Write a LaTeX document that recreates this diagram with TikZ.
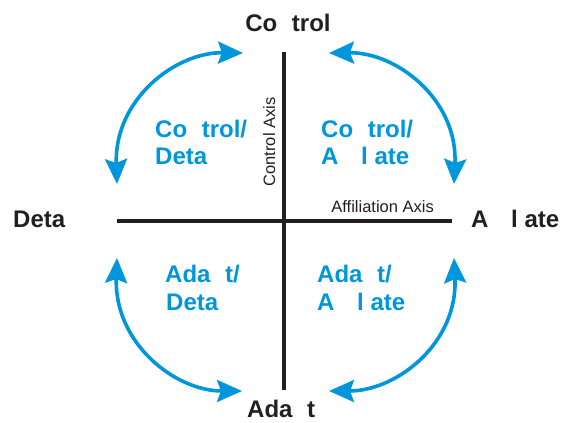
\documentclass[tikz,border=0pt]{standalone}
\usepackage{fontspec}
\setmainfont{Liberation Sans}
\usetikzlibrary{arrows.meta}
\definecolor{cblue}{RGB}{0,150,220}
\definecolor{cblack}{RGB}{35,31,32}
\begin{document}
\begin{tikzpicture}[x=1pt,y=-1pt,
  big/.style={font=\fontsize{24}{28}\selectfont\bfseries, inner sep=0pt, anchor=base west, text=cblack},
  quad/.style={big, text=cblue},
  small/.style={font=\fontsize{16.5}{19}\selectfont, inner sep=0pt, text=cblack},
  axisline/.style={line width=3.5pt, draw=cblack},
  swing/.style={line width=3.6pt, draw=cblue,
    {Stealth[length=25pt,width=22pt,inset=4pt]}-{Stealth[length=25pt,width=22pt,inset=4pt]}}
]
\useasboundingbox (0,0) rectangle (563,423);

% axes
\coordinate (vtop) at (284,52);
\coordinate (vbot) at (284,390);
\coordinate (hl) at (117,221);
\coordinate (hr) at (452,221);
\draw[axisline] (vtop) -- (vbot);
\draw[axisline] (hl) -- (hr);

\node[small, rotate=90, anchor=base] (caxis) at (275,142) {Control Axis};
\node[small, anchor=base east] (aaxis) at (434,212) {Affiliation Axis};

% pole labels
\node[big, anchor=base] (control) at (288,31) {Co\hphantom{n}trol};
\node[big] (detach) at (13,227) {Deta};
\node[big] (affil) at (471,227) {A\hphantom{ffi}l\hphantom{i}ate};
\node[big] (adapt) at (247,417) {Ada\hphantom{p}t};

% quadrant labels
\node[quad] (tl1) at (155,137) {Co\hphantom{n}trol/};
\node[quad] (tl2) at (155,164) {Deta};
\node[quad] (tr1) at (321,137) {Co\hphantom{n}trol/};
\node[quad] (tr2) at (321,164) {A\hphantom{ffi}l\hphantom{i}ate};
\node[quad] (bl1) at (165,282) {Ada\hphantom{p}t/};
\node[quad] (bl2) at (166,310) {Deta};
\node[quad] (br1) at (317,282) {Ada\hphantom{p}t/};
\node[quad] (br2) at (317,310) {A\hphantom{ffi}l\hphantom{i}ate};

% arcs
\coordinate (tlA) at (243,53);
\coordinate (tlB) at (117,184);
\coordinate (trA) at (329,53);
\coordinate (trB) at (454,184);
\coordinate (blA) at (117,258);
\coordinate (blB) at (242,391);
\coordinate (brA) at (454,258);
\coordinate (brB) at (329,391);
\draw[swing] (tlA) .. controls (175,52) and (114,100) .. (tlB);
\draw[swing] (trA) .. controls (397,52) and (458,100) .. (trB);
\draw[swing] (blA) .. controls (114,343) and (175,391) .. (blB);
\draw[swing] (brA) .. controls (458,343) and (397,391) .. (brB);
\end{tikzpicture}
\end{document}
